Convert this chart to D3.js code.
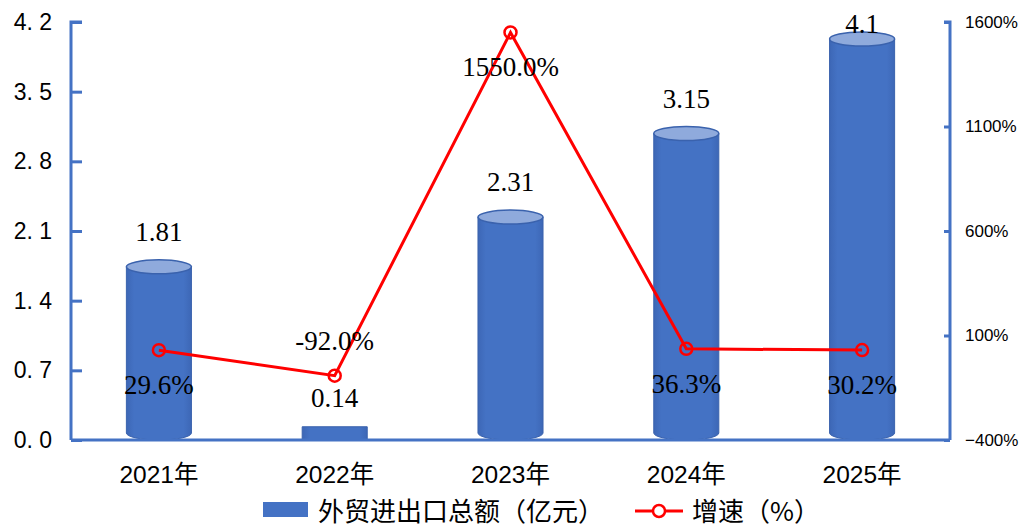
<!DOCTYPE html>
<html><head><meta charset="utf-8">
<script src="https://cdn.jsdelivr.net/npm/d3@7"></script>
<style>html,body{margin:0;padding:0;background:#fff;}svg{display:block;}</style>
</head><body>
<svg id="c" width="1027" height="530"></svg>
<script>
const categories = ["2021年","2022年","2023年","2024年","2025年"];
const tradeValues = [1.81, 0.14, 2.31, 3.15, 4.1];
const tradeLabels = ["1.81","0.14","2.31","3.15","4.1"];
const growthValues = [29.6, -92.0, 1550.0, 36.3, 30.2];
const growthLabels = ["29.6%","-92.0%","1550.0%","36.3%","30.2%"];
const leftTicks = [0, 0.7, 1.4, 2.1, 2.8, 3.5, 4.2];
const leftTickLabels = ["0. 0","0. 7","1. 4","2. 1","2. 8","3. 5","4. 2"];
const rightTicks = [-400, 100, 600, 1100, 1600];
const rightTickLabels = ["\u2212400%","100%","600%","1100%","1600%"];
const seriesNames = ["外贸进出口总额（亿元）","增速（%）"];

const svg = d3.select("#c");
const L = 71, R = 950, T = 22, B = 440;
const blue = "#4472C4", red = "#FF0000";

const x = d3.scaleBand().domain(categories).range([L, R]).paddingInner(0.63).paddingOuter(0.315);
const yL = d3.scaleLinear().domain([0, 4.2]).range([B, T]);
const yR = d3.scaleLinear().domain([-400, 1600]).range([B, T]);

const defs = svg.append("defs");
const g1 = defs.append("linearGradient").attr("id","body").attr("x1","0").attr("x2","1").attr("y1","0").attr("y2","0");
g1.append("stop").attr("offset","0").attr("stop-color","#3d67b6");
g1.append("stop").attr("offset","0.12").attr("stop-color","#4472C4");
g1.append("stop").attr("offset","0.88").attr("stop-color","#4472C4");
g1.append("stop").attr("offset","1").attr("stop-color","#3d67b6");

const bars = svg.append("g");
tradeValues.forEach((v, i) => {
  const cx = x(categories[i]) + x.bandwidth()/2;
  const w = x.bandwidth();
  const top = yL(v), bot = yL(0);
  const h = bot - top;
  const ry = Math.min(7, h / 20);
  const g = bars.append("g");
  g.append("path")
    .attr("d", `M${cx-w/2},${top+ry} L${cx-w/2},${bot-ry} A${w/2},${ry} 0 0 0 ${cx+w/2},${bot-ry} L${cx+w/2},${top+ry} Z`)
    .attr("fill","url(#body)").attr("stroke","#3a62ad").attr("stroke-width",1);
  if (ry > 2) {
    g.append("ellipse").attr("cx",cx).attr("cy",top+ry).attr("rx",w/2).attr("ry",ry)
      .attr("fill","#8FAADC").attr("stroke","#3a62ad").attr("stroke-width",1.5);
  }
});

const axG = svg.append("g");
const leftAxis = d3.axisRight(yL).tickValues(leftTicks).tickSize(11).tickFormat("");
const la = axG.append("g").attr("transform",`translate(${L},0)`).call(leftAxis);
la.select(".domain").attr("stroke",blue).attr("stroke-width",3).attr("d",`M11,${T}H0V${B}`);
la.selectAll(".tick line").attr("stroke",blue).attr("stroke-width",3);
const rightAxis = d3.axisLeft(yR).tickValues(rightTicks).tickSize(6).tickFormat("");
const ra = axG.append("g").attr("transform",`translate(${R},0)`).call(rightAxis);
ra.select(".domain").attr("stroke",blue).attr("stroke-width",3).attr("d",`M-6,${T}H0V${B}`);
ra.selectAll(".tick line").attr("stroke",blue).attr("stroke-width",3);
axG.append("line").attr("x1",L).attr("x2",R).attr("y1",B).attr("y2",B).attr("stroke",blue).attr("stroke-width",3);

svg.append("g").selectAll("text").data(leftTicks).join("text")
  .attr("x",52).attr("y",d=>yL(d)).attr("text-anchor","end").attr("dominant-baseline","central")
  .attr("font-family","Liberation Sans, Arial, sans-serif").attr("font-size",23).attr("fill","#000")
  .text((d,i)=>leftTickLabels[i]);
svg.append("g").selectAll("text").data(rightTicks).join("text")
  .attr("x",965).attr("y",d=>yR(d)).attr("text-anchor","start").attr("dominant-baseline","central")
  .attr("font-family","Liberation Sans, Arial, sans-serif").attr("font-size",17).attr("fill","#000")
  .text((d,i)=>rightTickLabels[i]);
svg.append("g").selectAll("text").data(categories).join("text")
  .attr("x",d=>x(d)+x.bandwidth()/2).attr("y",483).attr("text-anchor","middle")
  .attr("font-family","Liberation Sans, 'Noto Sans CJK SC', sans-serif").attr("font-size",24.5).attr("fill","#000")
  .text(d=>d);

const pts = growthValues.map((v,i)=>[x(categories[i]) + x.bandwidth()/2, yR(v)]);
svg.append("path").attr("d", d3.line()(pts)).attr("fill","none").attr("stroke",red).attr("stroke-width",3);
svg.append("g").selectAll("circle").data(pts).join("circle")
  .attr("cx",d=>d[0]).attr("cy",d=>d[1]).attr("r",6).attr("fill","none").attr("stroke",red).attr("stroke-width",2.5);

const serif = "Liberation Serif, 'Times New Roman', serif";
svg.append("g").selectAll("text").data(tradeValues).join("text")
  .attr("x",(d,i)=>x(categories[i]) + x.bandwidth()/2)
  .attr("y",d=>Math.max(yL(d) - 19, T + 11))
  .attr("text-anchor","middle").attr("font-family",serif).attr("font-size",27).attr("fill","#000")
  .text((d,i)=>tradeLabels[i]);
svg.append("g").selectAll("text").data(growthValues).join("text")
  .attr("x",(d,i)=>pts[i][0])
  .attr("y",(d,i)=> d < 0 ? pts[i][1] - 26 : pts[i][1] + 44)
  .attr("text-anchor","middle").attr("font-family",serif).attr("font-size",27).attr("fill","#000")
  .text((d,i)=>growthLabels[i]);

const lg = svg.append("g");
lg.append("rect").attr("x",263).attr("y",502).attr("width",45).attr("height",15).attr("fill",blue);
lg.append("text").attr("x",318).attr("y",521).attr("font-family","'Noto Sans CJK SC', sans-serif").attr("font-size",26).attr("fill","#000").text(seriesNames[0]);
lg.append("line").attr("x1",635).attr("x2",683).attr("y1",511).attr("y2",511).attr("stroke",red).attr("stroke-width",3);
lg.append("circle").attr("cx",659).attr("cy",511).attr("r",6).attr("fill","#fff").attr("stroke",red).attr("stroke-width",2.5);
lg.append("text").attr("x",692).attr("y",521).attr("font-family","'Noto Sans CJK SC', sans-serif").attr("font-size",26).attr("fill","#000").text(seriesNames[1]);
</script>
</body></html>
